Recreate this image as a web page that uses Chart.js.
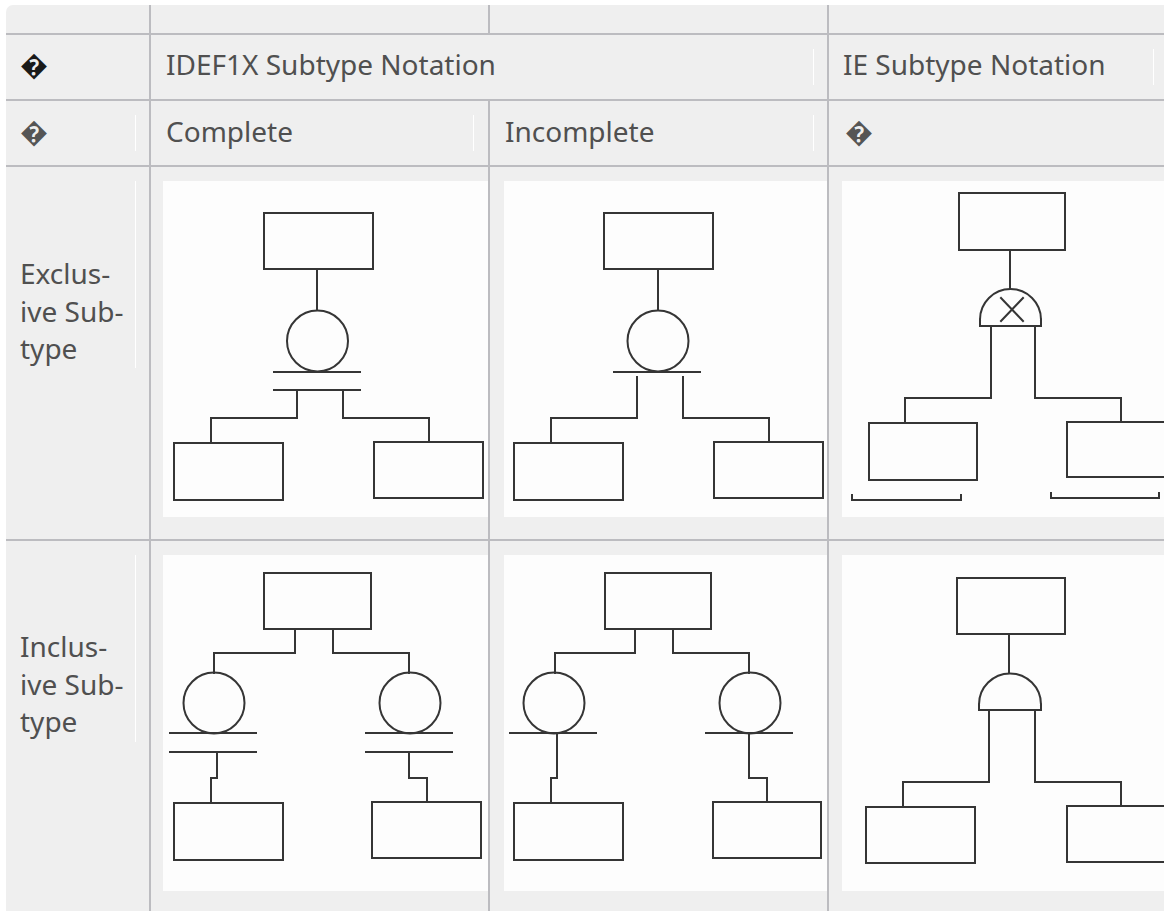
<!DOCTYPE html>
<html><head><meta charset="utf-8">
<script src="https://cdn.jsdelivr.net/npm/chart.js@4"></script>
<style>
html,body{margin:0;padding:0;background:#fff;overflow:hidden;width:1164px;height:911px;}
#sheet{position:absolute;left:6px;top:5px;width:1200px;height:960px;background:#efefef;border-top-left-radius:7px;}
.vl{position:absolute;width:2px;background:#bcbcc0;}
.hl{position:absolute;height:2px;left:6px;width:1200px;background:#bcbcc0;}
.wl{position:absolute;width:1px;background:#fff;}
.t{position:absolute;font-family:"Noto Sans",sans-serif;font-size:28px;line-height:38px;color:#505050;white-space:nowrap;}
.cell{position:absolute;overflow:hidden;height:336px;}
.cell canvas{display:block;background:#fdfdfd;}
</style></head>
<body>
<div id="sheet"></div>
<div id="root"></div>
<script>
// ---- text content ----
const headerRow = ['\uFFFD', 'IDEF1X Subtype Notation', 'IE Subtype Notation'];
const subRow = ['\uFFFD', 'Complete', 'Incomplete', '\uFFFD'];
const rowLabels = [['Exclus-', 'ive Sub-', 'type'], ['Inclus-', 'ive Sub-', 'type']];

// ---- diagram geometry (diagram units, 336 x 336 each) ----
// rects: [x1,y1,x2,y2]; paths: polylines; circles: [cx,cy,r]; domes: [cx,cy,r,baseY]
const exclusiveCompleteRects = [[101,32,210,88],[11,262,120,319],[211,261,320,317]];
const exclusiveCompletePaths = [
  [[154,88],[154,129]],
  [[111,191],[197,191]],
  [[111,209],[197,209]],
  [[134,209],[134,237],[48,237],[48,262]],
  [[180,209],[180,237],[266,237],[266,261]]
];
const exclusiveCompleteCircles = [[154.5,160,30.5]];

const exclusiveIncompleteRects = [[100,32,209,88],[10,262,119,319],[210,261,319,317]];
const exclusiveIncompletePaths = [
  [[154,88],[154,129]],
  [[110,191],[196,191]],
  [[133,196],[133,237],[47,237],[47,262]],
  [[179,196],[179,237],[265,237],[265,261]]
];
const exclusiveIncompleteCircles = [[154,160,30.5]];

const ieExclusiveRects = [[117,12,223,69],[27,242,135,299],[225,241,345,296]];
const ieExclusivePaths = [
  [[168,69],[168,108]],
  [[159,117],[181,140]],
  [[181,117],[159,140]],
  [[149,145],[149,217],[63,217],[63,242]],
  [[193,145],[193,217],[279,217],[279,241]],
  [[10,314],[10,319],[119,319],[119,314]],
  [[209,312],[209,317],[317,317],[317,312]]
];
const ieExclusiveDomes = [[168.5,138.5,30.5,145]];

const inclusiveCompleteRects = [[101,18,208,74],[11,248,120,305],[209,247,318,303]];
const inclusiveCompletePaths = [
  [[132,74],[132,98],[51,98],[51,118]],
  [[170,74],[170,98],[246,98],[246,118]],
  [[7,178],[93,178]],
  [[7,197],[93,197]],
  [[203,178],[289,178]],
  [[203,197],[289,197]],
  [[54,197],[54,223],[48,223],[48,248]],
  [[246,197],[246,223],[264,223],[264,247]]
];
const inclusiveCompleteCircles = [[51,148,30.5],[247,148,30.5]];

const inclusiveIncompleteRects = [[101,18,207,74],[10,248,119,305],[209,247,317,303]];
const inclusiveIncompletePaths = [
  [[131,74],[131,98],[51,98],[51,118]],
  [[169,74],[169,98],[245,98],[245,118]],
  [[6,178],[92,178]],
  [[202,178],[288,178]],
  [[53,178],[53,223],[47,223],[47,248]],
  [[245,178],[245,223],[263,223],[263,247]]
];
const inclusiveIncompleteCircles = [[50,148,30.5],[246,148,30.5]];

const ieInclusiveRects = [[115,23,223,79],[24,252,133,308],[225,251,345,307]];
const ieInclusivePaths = [
  [[167,79],[167,118]],
  [[147,155],[147,227],[61,227],[61,252]],
  [[193,155],[193,227],[279,227],[279,251]]
];
const ieInclusiveDomes = [[168,149.5,31,155]];

// ---- layout (page pixels) ----
const root = document.getElementById('root');
function el(cls, style, text) {
  const d = document.createElement('div');
  d.className = cls;
  Object.assign(d.style, style);
  if (text !== undefined) d.textContent = text;
  root.appendChild(d);
  return d;
}
// horizontal rules
[32.5, 98.5, 165, 539].forEach(y => el('hl', {top: y + 'px'}));
// vertical rules
el('vl', {left: '149px', top: '5px', height: '906px'});
el('vl', {left: '488px', top: '5px', height: '28px'});
el('vl', {left: '488px', top: '99px', height: '812px'});
el('vl', {left: '827px', top: '5px', height: '906px'});
// white resize handles
[[813,49,36],[1153,49,36],[135,115,36],[473,115,36],[813,115,36],[135,181,187],[135,555,187]]
  .forEach(([x,y,h]) => el('wl', {left: x + 'px', top: y + 'px', height: h + 'px'}));

// texts
el('t', {left: '20px', top: '45px', color: '#1a1a1a'}, headerRow[0]);
el('t', {left: '166px', top: '45px'}, headerRow[1]);
el('t', {left: '843px', top: '45px'}, headerRow[2]);
el('t', {left: '20px', top: '112px', color: '#555'}, subRow[0]);
el('t', {left: '166px', top: '112px'}, subRow[1]);
el('t', {left: '505px', top: '112px'}, subRow[2]);
el('t', {left: '845px', top: '112px', color: '#555'}, subRow[3]);
el('t', {left: '20px', top: '255px', lineHeight: '37.5px'}, '').innerHTML = rowLabels[0].join('<br>');
el('t', {left: '20px', top: '628px', lineHeight: '37.5px'}, '').innerHTML = rowLabels[1].join('<br>');

// ---- diagrams via Chart.js ----
const STROKE = '#353535';
const PAPER = '#fdfdfd';
function toPts(a) { return a.map(p => ({x: p[0], y: p[1]})); }
function lineDs(pts) {
  return {data: toPts(pts), borderColor: STROKE, borderWidth: 2, pointRadius: 0, pointHoverRadius: 0,
          fill: false, borderCapStyle: 'square', borderJoinStyle: 'miter', order: 0};
}
function circleDs(cx, cy, r) {
  return {data: [{x: cx, y: cy}], showLine: false, pointStyle: 'circle', pointRadius: r, pointHoverRadius: r,
          pointBorderWidth: 2, pointBorderColor: STROKE, pointBackgroundColor: PAPER, order: 3};
}
function makeDiagram(left, top, width, spec) {
  const box = el('cell', {left: left + 'px', top: top + 'px', width: width + 'px'});
  const cv = document.createElement('canvas');
  cv.width = 336; cv.height = 336;
  cv.style.width = '336px'; cv.style.height = '336px';
  box.appendChild(cv);
  const datasets = [];
  (spec.rects || []).forEach(([x1,y1,x2,y2]) =>
    datasets.push(lineDs([[x1,y1],[x2,y1],[x2,y2],[x1,y2],[x1,y1],[x2,y1]])));
  (spec.paths || []).forEach(p => datasets.push(lineDs(p)));
  (spec.circles || []).forEach(([cx,cy,r]) => datasets.push(circleDs(cx, cy, r)));
  (spec.domes || []).forEach(([cx,cy,r,base]) => {
    datasets.push(circleDs(cx, cy, r));
    // square mask hiding the lower half of the circle (half side = r + 3)
    const half = r + 3;
    datasets.push({data: [{x: cx, y: cy + 1 + half}], showLine: false, pointStyle: 'rect',
      pointRadius: half * Math.SQRT2, pointHoverRadius: half * Math.SQRT2, pointBorderWidth: 0,
      pointBackgroundColor: PAPER, pointBorderColor: PAPER, order: 2});
    datasets.push(lineDs([[cx-r,cy],[cx-r,base],[cx+r,base],[cx+r,cy]]));
  });
  new Chart(cv, {
    type: 'line',
    data: {datasets},
    options: {
      responsive: false, animation: false, events: [], devicePixelRatio: 1,
      layout: {padding: 0, autoPadding: false},
      plugins: {legend: {display: false}, tooltip: {enabled: false}},
      elements: {line: {tension: 0}},
      scales: {
        x: {type: 'linear', min: 0, max: 336, display: false},
        y: {type: 'linear', min: 0, max: 336, reverse: true, display: false}
      }
    }
  });
}
makeDiagram(163, 181, 325, {rects: exclusiveCompleteRects, paths: exclusiveCompletePaths, circles: exclusiveCompleteCircles});
makeDiagram(504, 181, 323, {rects: exclusiveIncompleteRects, paths: exclusiveIncompletePaths, circles: exclusiveIncompleteCircles});
makeDiagram(842, 181, 330, {rects: ieExclusiveRects, paths: ieExclusivePaths, domes: ieExclusiveDomes});
makeDiagram(163, 555, 325, {rects: inclusiveCompleteRects, paths: inclusiveCompletePaths, circles: inclusiveCompleteCircles});
makeDiagram(504, 555, 323, {rects: inclusiveIncompleteRects, paths: inclusiveIncompletePaths, circles: inclusiveIncompleteCircles});
makeDiagram(842, 555, 330, {rects: ieInclusiveRects, paths: ieInclusivePaths, domes: ieInclusiveDomes});
</script>
</body></html>
